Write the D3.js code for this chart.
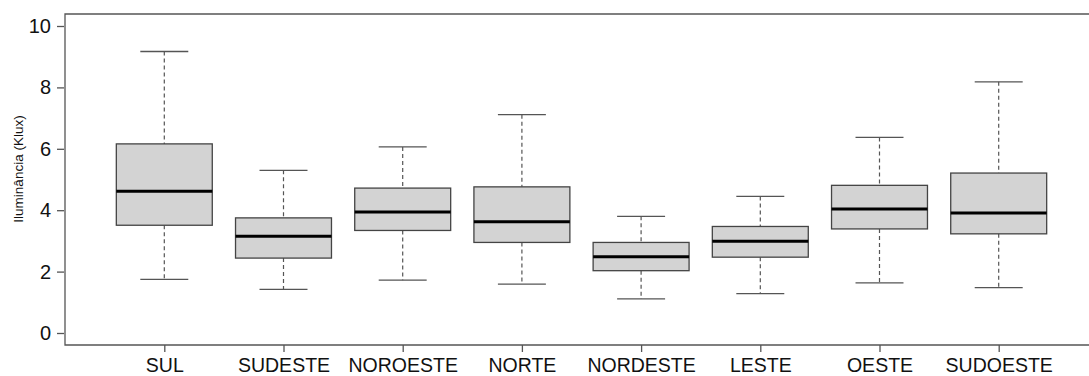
<!DOCTYPE html>
<html>
<head>
<meta charset="utf-8">
<script src="https://cdn.jsdelivr.net/npm/d3@7"></script>
<style>
  body { margin: 0; background: #fff; }
  text { font-family: "Liberation Sans", Arial, sans-serif; fill: #111; }
</style>
</head>
<body>
<svg id="chart" width="1089" height="376"></svg>
<script>
  var categories = ["SUL", "SUDESTE", "NOROESTE", "NORTE", "NORDESTE", "LESTE", "OESTE", "SUDOESTE"];
  var whiskerLow  = [1.75, 1.42, 1.72, 1.59, 1.11, 1.28, 1.63, 1.48];
  var q1          = [3.51, 2.44, 3.34, 2.95, 2.03, 2.47, 3.39, 3.23];
  var medians     = [4.62, 3.15, 3.94, 3.62, 2.48, 2.99, 4.04, 3.91];
  var q3          = [6.16, 3.75, 4.72, 4.76, 2.95, 3.47, 4.81, 5.21];
  var whiskerHigh = [9.17, 5.30, 6.06, 7.11, 3.80, 4.45, 6.37, 8.18];
  var yTicks = [0, 2, 4, 6, 8, 10];

  var svg = d3.select("#chart");
  var frame = {left: 65, top: 14, bottom: 345, right: 1095};

  var x = d3.scalePoint()
      .domain(categories)
      .range([164.3, 998.7]);
  var step = x.step();
  var boxW = step * 0.805;

  var y = d3.scaleLinear()
      .domain([0, 10])
      .range([333, 26]);

  var data = categories.map(function(c, i) {
    return {name: c, lo: whiskerLow[i], q1: q1[i], med: medians[i], q3: q3[i], hi: whiskerHigh[i]};
  });

  // frame (right side falls outside the picture)
  svg.append("path")
      .attr("d", "M" + frame.right + "," + frame.top + "H" + frame.left + "V" + frame.bottom + "H" + frame.right)
      .attr("fill", "none")
      .attr("stroke", "#555")
      .attr("stroke-width", 1.3);

  // y axis
  var yAxis = d3.axisLeft(y).tickValues(yTicks).tickSize(7).tickPadding(6);
  var gy = svg.append("g")
      .attr("transform", "translate(" + (frame.left - 1) + ",0)")
      .call(yAxis);
  gy.select(".domain").remove();
  gy.selectAll(".tick line").attr("stroke", "#555").attr("stroke-width", 1.3);
  gy.selectAll(".tick text").style("font-size", "20px").attr("fill", "#111");

  // x axis
  var xAxis = d3.axisBottom(x).tickSize(7).tickPadding(6);
  var gx = svg.append("g")
      .attr("transform", "translate(0," + frame.bottom + ")")
      .call(xAxis);
  gx.select(".domain").remove();
  gx.selectAll(".tick line").attr("stroke", "#555").attr("stroke-width", 1.3);
  gx.selectAll(".tick text").style("font-size", "19.5px").attr("fill", "#111");

  svg.append("text")
      .attr("transform", "translate(23,169) rotate(-90)")
      .attr("text-anchor", "middle")
      .style("font-size", "13.5px")
      .text("Iluminância (Klux)");

  var box = svg.append("g").selectAll("g")
      .data(data)
    .enter().append("g");

  // whiskers
  box.append("line")
      .attr("x1", function(d) { return x(d.name); })
      .attr("x2", function(d) { return x(d.name); })
      .attr("y1", function(d) { return y(d.hi); })
      .attr("y2", function(d) { return y(d.q3); })
      .attr("stroke", "#555").attr("stroke-width", 1.2).attr("stroke-dasharray", "4,3");
  box.append("line")
      .attr("x1", function(d) { return x(d.name); })
      .attr("x2", function(d) { return x(d.name); })
      .attr("y1", function(d) { return y(d.q1); })
      .attr("y2", function(d) { return y(d.lo); })
      .attr("stroke", "#555").attr("stroke-width", 1.2).attr("stroke-dasharray", "4,3");

  // caps
  ["hi", "lo"].forEach(function(k) {
    box.append("line")
        .attr("x1", function(d) { return x(d.name) - boxW / 4; })
        .attr("x2", function(d) { return x(d.name) + boxW / 4; })
        .attr("y1", function(d) { return y(d[k]); })
        .attr("y2", function(d) { return y(d[k]); })
        .attr("stroke", "#555").attr("stroke-width", 1.3);
  });

  box.append("rect")
      .attr("x", function(d) { return x(d.name) - boxW / 2; })
      .attr("y", function(d) { return y(d.q3); })
      .attr("width", boxW)
      .attr("height", function(d) { return y(d.q1) - y(d.q3); })
      .attr("fill", "#d3d3d3")
      .attr("stroke", "#444")
      .attr("stroke-width", 1.3);

  box.append("line")
      .attr("x1", function(d) { return x(d.name) - boxW / 2; })
      .attr("x2", function(d) { return x(d.name) + boxW / 2; })
      .attr("y1", function(d) { return y(d.med); })
      .attr("y2", function(d) { return y(d.med); })
      .attr("stroke", "#000").attr("stroke-width", 3);
</script>
</body>
</html>
